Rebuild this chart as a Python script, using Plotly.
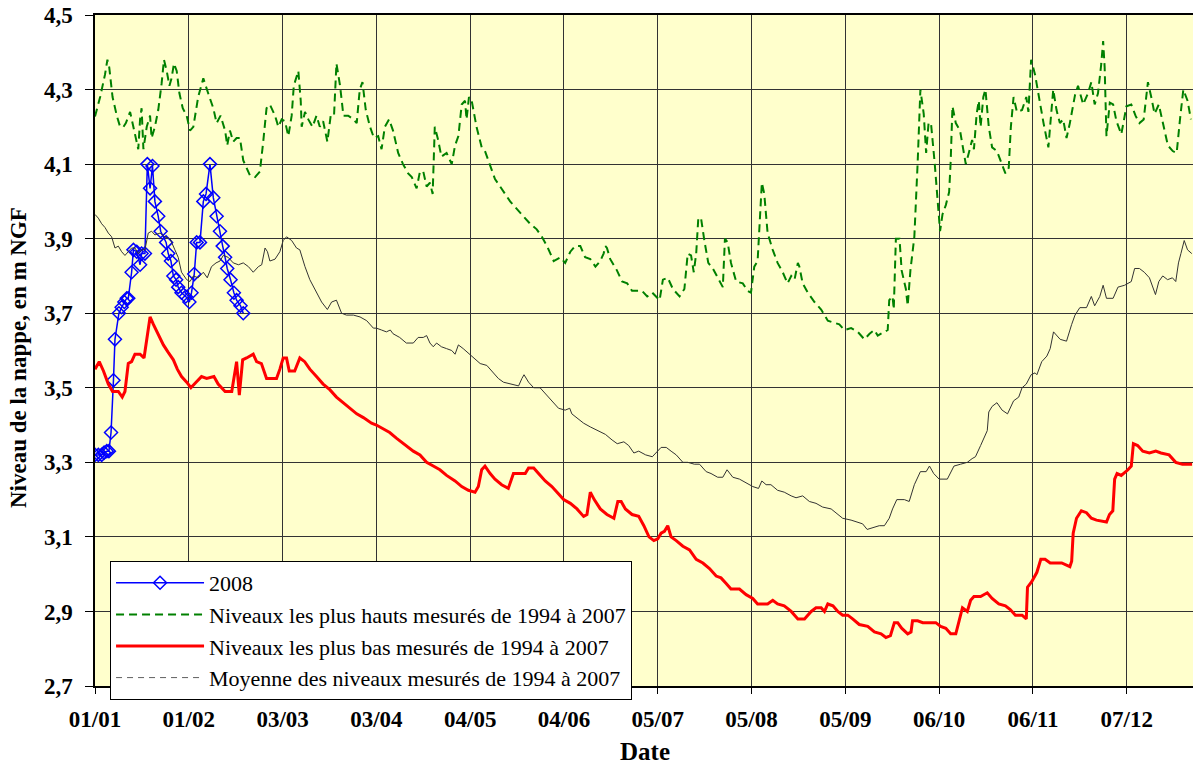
import plotly.graph_objects as go

# ---------------- data (day offset from 01/01/2008, level in m NGF) ----------------
tick_days = [0, 31, 62, 93, 124, 155, 186, 217, 248, 279, 310, 341]
tick_labels = ["01/01", "01/02", "03/03", "03/04", "04/05", "04/06",
               "05/07", "05/08", "05/09", "06/10", "06/11", "07/12"]
y_ticks = [2.7, 2.9, 3.1, 3.3, 3.5, 3.7, 3.9, 4.1, 4.3, 4.5]

days_2008 = [0, 1.1, 2.2, 3, 3.9, 4.6, 5.3, 6.1, 6.6, 7.9, 8.8, 9.7, 10.5, 11, 12.1, 12.7,
             13.8, 14.9, 15.4, 16.5, 17.3, 18.2, 19, 19.8, 20.9, 21.7, 23.5, 24.2, 25.1,
             25.9, 26.8, 27.5, 28.6, 30, 31.2, 31.9, 32.8, 33.6, 34.7, 35.8, 36.7, 38,
             39.1, 40.2, 41.3, 42.2, 43, 43.7, 44.8, 45.9, 46.8, 48.1, 49]
vals_2008 = [3.32, 3.32, 3.32, 3.326, 3.33, 3.33, 3.38, 3.52, 3.63, 3.70, 3.716, 3.73, 3.74,
             3.74, 3.81, 3.87, 3.865, 3.83, 3.86, 3.86, 4.10, 4.035, 4.095, 4.00, 3.96, 3.92,
             3.89, 3.86, 3.84, 3.80, 3.79, 3.77, 3.755, 3.745, 3.73, 3.755, 3.805, 3.89, 3.89,
             4.00, 4.02, 4.10, 4.01, 3.96, 3.92, 3.88, 3.85, 3.82, 3.79, 3.755, 3.735, 3.72, 3.70]

days_max = [0, 1.7, 3.3, 4.1, 4.7, 5.8, 7.2, 8.3, 9.4, 10.2, 11.6, 12.7, 13.8, 14.3, 14.9, 15.4,
            16, 17.1, 18.2, 18.7, 19.8, 20.9, 22, 22.8, 23.7, 24.6, 25.3, 26.1, 27, 27.9, 29,
            30.3, 31.4, 32.5, 34.1, 35.8, 37.4, 39.1, 40.2, 41.5, 43, 43.7, 44.6, 45.7, 46.8,
            47.9, 49, 50.1, 51.2, 52.9, 54.5, 55.6, 56.7, 57.8, 59.5, 60.6, 61.7, 62.8, 63.9,
            65, 65.7, 67.2, 68, 68.3, 69.4, 70.5, 71.9, 73.2, 74.3, 75.4, 76.8, 77.9, 79, 79.8,
            81, 82.1, 83.7, 85.4, 86.5, 87.5, 88.4, 89.5, 90.9, 92.2, 93.6,
            94.7, 95.8, 97.2, 98.5, 100.2, 101.8, 103.5, 104.7, 106.3, 107.4, 108.5, 109.6,
            110.7, 111.6, 112.3, 113.4, 114.5, 116.2, 117.9, 119, 120.1, 121.2, 122.3, 122.8,
            123.6, 124.5, 126.1, 127.8, 128.9, 130.6, 132.2, 133.9, 135.6, 137.2, 139.4, 141.6,
            143.8, 146, 147.7, 149.4, 151.6, 153.8, 155.4, 157.1, 158.7, 160.4, 162, 163.7,
            165.4, 167, 168.1, 168.7, 169.2, 170.3, 172.5, 174.2, 175.9, 177.5, 179.2, 180.8,
            182.5, 184.2,
            186.6, 187.7, 189.3, 191, 193.2, 194.8, 195.9, 197, 197.9, 198.7, 199.4, 200.3,
            201.4, 202.7, 204.2, 205.8, 207.5, 208.2, 209.1, 210.2, 211.9, 214.1, 215.7, 216.8,
            217.9, 219, 219.6, 220.4, 221.2, 222.3, 224, 225.6, 227.3, 228.9, 230.1, 231.2,
            232.3, 232.8, 233.9, 235.6, 237.8, 240, 242.2, 244.4, 246, 247.7, 249.9, 252.1,
            254.3, 256, 257.6, 258.7, 261, 262, 262.5, 263.6, 264, 264.7, 265.9, 266.6, 268,
            268.6, 269.5, 270.8, 271.9, 272.8, 273.9, 274.7, 275.5, 276.3, 277.5,
            278.5, 279.3, 280.1, 281.2, 282.3, 282.8, 283.4, 284.5, 285.9, 286.7, 287.8, 288.8,
            289.9, 290.5, 291.4, 292.1, 292.7, 293.6, 294.3, 295.4, 296.5, 298.1, 299.2, 300.9,
            302, 302.7, 303.6, 304.7, 306.4, 307.8, 308.5, 309.4, 310.7, 312.1, 313.5, 315.1,
            315.9, 316.7, 317.8, 318.9, 320, 321.1, 322.2, 323.9, 324.9, 326.6, 328.2, 329.3,
            330.4, 331.5, 332.6, 333.2, 333.7, 334.3, 335.4, 336.5, 337.6, 339.2, 340.9, 342.5,
            343.9, 345.2, 346.6, 348, 349.1, 350.2, 351.6, 352.9, 354.6, 356.2, 357.5, 358.6,
            359.7, 361.1, 362.2]
vals_max = [4.228, 4.28, 4.34, 4.38, 4.36, 4.28, 4.23, 4.20, 4.20, 4.21, 4.24, 4.20, 4.16, 4.14,
            4.22, 4.25, 4.14, 4.20, 4.23, 4.17, 4.20, 4.245, 4.315, 4.38, 4.35, 4.31, 4.33, 4.37,
            4.35, 4.29, 4.25, 4.23, 4.19, 4.20, 4.28, 4.33, 4.29, 4.25, 4.21, 4.23, 4.19, 4.15,
            4.19, 4.16, 4.17, 4.17, 4.11, 4.09, 4.07, 4.065, 4.08, 4.16, 4.25, 4.26, 4.23, 4.20,
            4.22, 4.215, 4.175, 4.23, 4.31, 4.35, 4.27, 4.20, 4.24, 4.22, 4.20, 4.23, 4.20,
            4.215, 4.16, 4.23, 4.23, 4.37, 4.31, 4.23, 4.23, 4.22, 4.21, 4.30, 4.32, 4.245, 4.20,
            4.17, 4.175,
            4.14, 4.20, 4.22, 4.19, 4.13, 4.10, 4.075, 4.065, 4.035, 4.08, 4.08, 4.04, 4.05,
            4.02, 4.20, 4.165, 4.12, 4.13, 4.10, 4.15, 4.175, 4.26, 4.27, 4.22, 4.28, 4.27, 4.20,
            4.145, 4.135, 4.095, 4.06, 4.04, 4.02, 4.00, 3.98, 3.96, 3.94, 3.925, 3.905, 3.88,
            3.84, 3.85, 3.835, 3.865, 3.88, 3.88, 3.85, 3.845, 3.825, 3.84, 3.86, 3.88, 3.875,
            3.845, 3.815, 3.785, 3.78, 3.76, 3.76, 3.76, 3.745, 3.755,
            3.735, 3.79, 3.795, 3.765, 3.745, 3.765, 3.86, 3.855, 3.81, 3.86, 3.955, 3.955,
            3.895, 3.835, 3.82, 3.795, 3.77, 3.90, 3.89, 3.835, 3.785, 3.78, 3.76, 3.755, 3.825,
            3.84, 3.94, 4.05, 4.02, 3.915, 3.87, 3.835, 3.81, 3.78, 3.80, 3.79, 3.835, 3.825,
            3.78, 3.755, 3.73, 3.71, 3.68, 3.675, 3.67, 3.655, 3.66, 3.65, 3.63, 3.645, 3.655,
            3.64, 3.65, 3.655, 3.735, 3.745, 3.71, 3.90, 3.90, 3.815, 3.765, 3.72, 3.815, 3.905,
            4.105, 4.30, 4.235, 4.13, 4.21, 4.21, 4.105,
            3.99, 3.92, 3.965, 3.99, 4.025, 4.105, 4.255, 4.21, 4.19, 4.15, 4.10, 4.13, 4.165,
            4.14, 4.235, 4.27, 4.20, 4.28, 4.30, 4.20, 4.145, 4.135, 4.11, 4.075, 4.09, 4.20,
            4.28, 4.24, 4.245, 4.28, 4.24, 4.38, 4.34, 4.27, 4.21, 4.145, 4.22, 4.30, 4.245,
            4.21, 4.22, 4.17, 4.21, 4.285, 4.31, 4.26, 4.29, 4.32, 4.26, 4.29, 4.37, 4.43, 4.36,
            4.175, 4.265, 4.26, 4.215, 4.18, 4.255, 4.26, 4.23, 4.21, 4.22, 4.32, 4.28, 4.235,
            4.26, 4.21, 4.15, 4.135, 4.13, 4.22, 4.30, 4.27, 4.22]

days_min = [0, 1.4, 2.8, 4.4, 5.8, 7.7, 9, 9.9, 11, 12.1, 13.2, 14.9, 16.2, 17.3, 18.2, 19.3,
            20.9, 22.6, 24.2, 25.9, 27.2, 28.6, 30.3, 31.7, 33.4, 35.2, 36.9, 39.3, 40.7, 43,
            45.2, 46.8, 47.7, 48.8, 50.1, 52.3, 53.4, 55, 56.7, 58.4, 60, 61.1, 62.2, 63.3, 64.2,
            66, 67.7, 69.3, 71, 73.2, 75.4, 77.6, 79.8, 82, 84.3, 86.5, 88.7, 91.4,
            93, 95.2, 97.4, 99.6, 101.3, 102.9, 105.2, 107.4, 109.6, 111.8, 114, 116.2, 119,
            121.2, 123.4, 125.6, 126.7, 127.8, 128.9, 130.6, 132.2, 134.4, 136.6, 138.3, 140,
            142.2, 143.3, 145, 146.6, 148.8, 151, 153.2, 154.9, 157.1, 159.3, 161.5, 162.6,
            163.7, 165, 167, 169.2, 171.5, 172.8, 173.9, 175.3, 177.5, 179.7, 181.4, 183.1,
            184.7, 186,
            187.1, 188.2, 189.3, 190.4, 192.1, 194.3, 196.5, 198.7, 200.9, 203.1, 205.3, 206.9,
            208.6, 210.2, 213, 215.2, 217.4, 219, 222.3, 224, 225.6, 227.8, 230.1, 232.3, 234.5,
            236.7, 238.3, 240, 241.1, 242.2, 243.9, 245.5, 247.1, 248.8, 250.4, 252.6, 255.4,
            257.6, 259.8, 261.4, 262.9, 264.2, 265.3, 266.6, 268.6, 269.7, 270.2, 271.9, 273.6,
            277.9, 279.5, 281.2, 282.8, 284.5, 285.6, 286.7, 288.3, 289.4, 290.5, 292.7, 294.9,
            296.5, 298.7, 300.9, 302.5, 304.2, 306.4, 307.8, 308.2, 309.6, 311.3, 312.6, 314,
            315.7, 317.8, 319.5, 322.2, 322.8, 323.3, 324.4, 326, 327.7, 329.3, 331, 334.3,
            335.3, 336.4, 337, 337.8, 339.2, 341.4, 342.5, 343.2, 344.6, 346.3, 348.5, 350.6,
            352.3, 355, 357.2, 359.4, 362.6]
vals_min = [3.55, 3.57, 3.545, 3.51, 3.49, 3.49, 3.475, 3.49, 3.565, 3.57, 3.59, 3.59, 3.58,
            3.645, 3.69, 3.67, 3.645, 3.615, 3.595, 3.575, 3.55, 3.53, 3.515, 3.50, 3.515, 3.53,
            3.525, 3.53, 3.51, 3.49, 3.49, 3.57, 3.48, 3.575, 3.58, 3.59, 3.57, 3.565, 3.525,
            3.525, 3.525, 3.55, 3.58, 3.58, 3.545, 3.545, 3.58, 3.57, 3.55, 3.53, 3.51, 3.495,
            3.475, 3.46, 3.445, 3.43, 3.42, 3.405,
            3.40, 3.39, 3.38, 3.365, 3.355, 3.345, 3.33, 3.32, 3.30, 3.29, 3.28, 3.265, 3.25,
            3.235, 3.225, 3.22, 3.235, 3.28, 3.29, 3.27, 3.255, 3.24, 3.23, 3.27, 3.27, 3.27,
            3.285, 3.285, 3.27, 3.25, 3.235, 3.215, 3.20, 3.19, 3.175, 3.155, 3.16, 3.22, 3.20,
            3.175, 3.16, 3.15, 3.195, 3.195, 3.175, 3.16, 3.155, 3.13, 3.10, 3.09, 3.095,
            3.11, 3.115, 3.13, 3.10, 3.09, 3.075, 3.065, 3.04, 3.03, 3.015, 2.995, 2.99, 2.975,
            2.96, 2.96, 2.945, 2.935, 2.92, 2.92, 2.93, 2.92, 2.915, 2.90, 2.88, 2.88, 2.90,
            2.91, 2.91, 2.90, 2.92, 2.915, 2.90, 2.89, 2.89, 2.88, 2.865, 2.86, 2.845, 2.84,
            2.83, 2.835, 2.87, 2.87, 2.855, 2.84, 2.845, 2.875, 2.875, 2.87,
            2.87, 2.86, 2.855, 2.84, 2.84, 2.875, 2.91, 2.90, 2.93, 2.94, 2.94, 2.95, 2.935,
            2.92, 2.915, 2.905, 2.89, 2.89, 2.88, 2.965, 2.98, 3.005, 3.04, 3.04, 3.03, 3.03,
            3.03, 3.02, 3.035, 3.11, 3.15, 3.17, 3.165, 3.15, 3.145, 3.14, 3.16, 3.17, 3.255,
            3.27, 3.265, 3.28, 3.29, 3.35, 3.345, 3.33, 3.325, 3.33, 3.325, 3.32, 3.30, 3.295,
            3.295]

days_mean = [0, 1.1, 2.2, 3.3, 4.4, 5.5, 6.6, 7.7, 8.8, 9.9, 11, 12.1, 13.2, 14.3, 15.4, 16.5,
             17.6, 18.7, 19.8, 21.5, 23.1, 24.8, 26.4, 27.5, 28.6, 30.3, 31.4, 32.5, 34.1, 35.8,
             37.1, 38.5, 40, 41.3, 42.4, 44, 45.7, 47.4, 49, 50.7, 52.3, 54, 55.1, 56.2, 57,
             57.8, 59.5, 61.1, 62.2, 63.3, 65, 66.6, 67.7, 69.4, 71, 73.2, 74.9, 76.8, 78.2,
             79.8, 81.5, 83.1, 85.4, 87.6, 89.8, 92,
             93, 94.7, 96.3, 97.6, 98.5, 100.7, 102.9, 105.2, 106.8, 108.5, 109.6, 110.7, 111.8,
             112.9, 114.5, 116.2, 117.9, 119, 120.1, 121.7, 123.7, 125.6, 127.3, 129.5, 131.1,
             133.3, 135, 137.2, 140, 141.1, 141.8, 143.3, 145, 147.1, 148.8, 151, 153.2, 155.4,
             156.9, 157.6, 159.3, 161.5, 163.7, 166.5, 168.7, 170.9, 172.6, 174.8, 176.4, 178.1,
             179.7, 182, 184.2,
             187.1, 188.8, 190.4, 192.1, 194.3, 195.9, 198.1, 199.8, 202, 203.6, 205.8, 207.5,
             208.9, 210.8, 213, 215.2, 217.4, 219.3, 220.4, 221.8, 223.4, 225.6, 227.8, 230.1,
             231.7, 233.9, 236.1, 238.3, 240.5, 243.3, 245.5, 247.1, 249.9, 252.1, 253.7, 255.2,
             257, 259.2, 260.9, 262.5, 263.6, 265, 267.5, 269.1, 270.8, 272.8, 274.7, 275.8,
             277.2,
             279, 281.7, 283.9, 286.1, 288.3, 289.9, 291, 292.7, 294.9, 295.4, 296.5, 298.1,
             299.8, 301.6, 303.6, 305.3, 306.4, 307.8, 309.4, 310.7, 311.3, 312.9, 314.6, 315.7,
             316.8, 319, 321.1, 322.8, 323.9, 325.5, 327.7, 329.3, 330.4, 332.1, 333.2, 334.3,
             336.5, 338.1, 340.3, 342.5, 343.6, 345.2, 346.8, 348.5, 349.6, 350.5, 351.6, 352.9,
             354.5, 356.1, 357.2, 358.1, 358.9, 360, 361.1, 362.5]
vals_mean = [3.965, 3.955, 3.94, 3.93, 3.915, 3.905, 3.875, 3.88, 3.865, 3.855, 3.865, 3.875,
             3.875, 3.86, 3.87, 3.87, 3.915, 3.92, 3.91, 3.915, 3.905, 3.90, 3.87, 3.85, 3.81,
             3.79, 3.785, 3.80, 3.795, 3.81, 3.795, 3.825, 3.835, 3.84, 3.855, 3.85, 3.835, 3.83,
             3.835, 3.825, 3.81, 3.825, 3.83, 3.875, 3.865, 3.84, 3.845, 3.865, 3.895, 3.905,
             3.895, 3.875, 3.87, 3.825, 3.79, 3.755, 3.73, 3.71, 3.73, 3.735, 3.70, 3.695,
             3.695, 3.69, 3.68, 3.66,
             3.66, 3.655, 3.65, 3.655, 3.645, 3.635, 3.62, 3.62, 3.635, 3.635, 3.64, 3.62, 3.61,
             3.62, 3.61, 3.605, 3.60, 3.59, 3.615, 3.605, 3.59, 3.575, 3.565, 3.56, 3.545, 3.525,
             3.515, 3.51, 3.505, 3.525, 3.535, 3.515, 3.50, 3.50, 3.485, 3.465, 3.445, 3.44,
             3.445, 3.43, 3.42, 3.405, 3.395, 3.385, 3.375, 3.36, 3.35, 3.355, 3.345, 3.325,
             3.33, 3.32, 3.315,
             3.34, 3.34, 3.33, 3.32, 3.30, 3.30, 3.295, 3.295, 3.275, 3.27, 3.26, 3.26, 3.28,
             3.26, 3.255, 3.245, 3.235, 3.23, 3.25, 3.24, 3.24, 3.225, 3.22, 3.21, 3.205, 3.21,
             3.195, 3.19, 3.18, 3.175, 3.16, 3.15, 3.145, 3.14, 3.135, 3.12, 3.125, 3.13, 3.13,
             3.15, 3.175, 3.20, 3.20, 3.195, 3.24, 3.275, 3.275, 3.29, 3.27,
             3.255, 3.255, 3.29, 3.295, 3.30, 3.31, 3.315, 3.345, 3.385, 3.435, 3.45, 3.46, 3.44,
             3.43, 3.465, 3.475, 3.50, 3.51, 3.535, 3.54, 3.535, 3.57, 3.585, 3.605, 3.65, 3.63,
             3.625, 3.67, 3.695, 3.715, 3.715, 3.745, 3.72, 3.745, 3.775, 3.74, 3.74, 3.77,
             3.775, 3.785, 3.82, 3.82, 3.81, 3.795, 3.77, 3.75, 3.785, 3.80, 3.79, 3.795, 3.785,
             3.835, 3.86, 3.895, 3.87, 3.86]

names = ["2008",
         "Niveaux les plus hauts mesurés de 1994 à 2007",
         "Niveaux les plus bas mesurés de 1994 à 2007",
         "Moyenne des niveaux mesurés de 1994 à 2007"]
x_title = "Date"
y_title = "Niveau de la nappe, en m NGF"

# ---------------- figure ----------------
fig = go.Figure()

fig.add_trace(go.Scatter(
    x=days_2008, y=vals_2008, name=names[0], mode="lines+markers",
    line=dict(color="#0000FF", width=1.5),
    marker=dict(symbol="diamond-open", size=10, color="#0000FF", line=dict(width=1.5))))

fig.add_trace(go.Scatter(
    x=days_max, y=vals_max, name=names[1], mode="lines",
    line=dict(color="#008000", width=2, dash="8px,5px")))

fig.add_trace(go.Scatter(
    x=days_min, y=vals_min, name=names[2], mode="lines",
    line=dict(color="#FF0000", width=3)))

fig.add_trace(go.Scatter(
    x=days_mean, y=vals_mean, name=names[3], mode="lines", showlegend=False,
    line=dict(color="#333333", width=1)))

# legend entry for the mean (dashed symbol as in the original legend)
fig.add_trace(go.Scatter(
    x=[None], y=[None], name=names[3], mode="lines",
    line=dict(color="#606060", width=1, dash="6px,5px")))

tick_font = dict(family="Liberation Serif", size=23, color="black", weight="bold")

fig.update_layout(
    width=1193, height=764,
    margin=dict(l=95, r=0, t=15, b=78, autoexpand=False),
    paper_bgcolor="white", plot_bgcolor="#FFFFCC",
    separators=", ",
    font=dict(family="Liberation Serif", color="black"),
    legend=dict(x=0.0137, y=0.1863, xanchor="left", yanchor="top",
                bgcolor="white", bordercolor="black", borderwidth=1,
                font=dict(family="Liberation Serif", size=22, color="black"),
                itemwidth=88, tracegroupgap=0),
    annotations=[
        dict(text=x_title, xref="paper", yref="paper", x=0.5009, y=-0.0969,
             xanchor="center", yanchor="middle", showarrow=False,
             font=dict(family="Liberation Serif", size=25, color="black", weight="bold")),
        dict(text=y_title, xref="paper", yref="paper", x=-0.0701, y=0.4888,
             xanchor="center", yanchor="middle", showarrow=False, textangle=-90,
             font=dict(family="Liberation Serif", size=23, color="black", weight="bold")),
    ],
)

fig.update_xaxes(
    automargin=False,
    range=[0, 362.9], tickmode="array", tickvals=tick_days, ticktext=tick_labels,
    tickfont=tick_font, showgrid=True, gridcolor="#333333", gridwidth=1.2,
    showline=True, linecolor="black", linewidth=1.5, mirror=True,
    ticks="outside", ticklen=6, tickcolor="black", zeroline=False,
    ticklabelstandoff=6,
)
fig.update_yaxes(
    automargin=False,
    range=[2.7, 4.5], tickmode="array", tickvals=y_ticks, tickformat=".1f",
    tickfont=tick_font, showgrid=True, gridcolor="#333333", gridwidth=1.2,
    showline=True, linecolor="black", linewidth=1.5, mirror=False,
    ticks="outside", ticklen=8, tickcolor="black", zeroline=False,
    ticklabelstandoff=8,
)

fig.write_html(
    "out.html",
    config={"displayModeBar": False},
    post_script="document.body.style.margin='0px';document.body.style.overflow='hidden';",
)
